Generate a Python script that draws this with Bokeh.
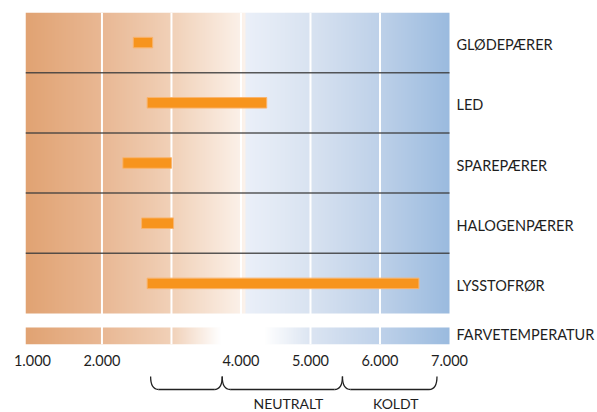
import numpy as np
from bokeh.plotting import figure
from bokeh.layouts import column
from bokeh.models import Range1d, FixedTicker
from bokeh.core.properties import value
from bokeh.embed import file_html
from bokeh.resources import INLINE

# ---------------- data ----------------
categories = ["GLØDEPÆRER", "LED", "SPAREPÆRER", "HALOGENPÆRER", "LYSSTOFRØR"]
temp_min = [2450, 2650, 2300, 2570, 2650]
temp_max = [2730, 4370, 3000, 3030, 6560]
tick_values = [1000, 2000, 4000, 5000, 6000, 7000]
tick_labels = ["1.000", "2.000", "4.000", "5.000", "6.000", "7.000"]
grid_values = [2000, 3000, 4000, 5000, 6000]
scale_label = "FARVETEMPERATUR"
zone_edges = [2700, 3730, 5460, 6820]
zone_labels = ["", "NEUTRALT", "KOLDT"]

# ---------------- layout constants ----------------
K_LO, K_HI = 900, 7000
FRAME_W = 572
PX_PER_K = 424 / (K_HI - K_LO)
X_HI = K_LO + FRAME_W / PX_PER_K
ROW_PX = 60.2
FRAME_H = 332
Y_END = FRAME_H / ROW_PX
STRIP_TOP = (327 - 12) / ROW_PX
FONT = "Lato"
TXT = "#1e1e1e"

main_stops = [(900, "#E1A373"), (2000, "#E9B894"), (3000, "#F1D1B8"),
              (4059, "#FCF3EC"), (4060, "#EBF0F9"), (5000, "#D9E3F1"),
              (6000, "#BED1E9"), (7000, "#9BBBDF")]
strip_stops = [(900, "#E1A373"), (2000, "#E9B894"), (3000, "#F1D1B8"),
               (3700, "#FFFFFF"), (4350, "#FFFFFF"), (5000, "#DCE5F2"),
               (6000, "#BFD2EA"), (7000, "#9BBBDF")]


def hex2rgb(h):
    h = h.lstrip("#")
    return [int(h[i:i + 2], 16) for i in (0, 2, 4)]


def gradient(stops, n=1220):
    ks = np.linspace(K_LO, K_HI, n)
    img = np.zeros((1, n), dtype=np.uint32)
    view = img.view(dtype=np.uint8).reshape((1, n, 4))
    pos = [s[0] for s in stops]
    cols = np.array([hex2rgb(s[1]) for s in stops], dtype=float)
    for c in range(3):
        view[0, :, c] = np.interp(ks, pos, cols[:, c]).astype(np.uint8)
    view[0, :, 3] = 255
    return img


x_range = Range1d(K_LO, X_HI)

# ---------------- main figure ----------------
p = figure(width=597, height=370, x_range=x_range,
           y_range=Range1d(Y_END, 0), output_backend="svg",
           toolbar_location=None, y_axis_location=None,
           min_border_left=25, min_border_right=0, min_border_top=12,
           min_border_bottom=26)
p.outline_line_color = None
p.grid.visible = False
p.background_fill_color = "white"

p.image_rgba(image=[gradient(main_stops)], x=K_LO, y=0, dw=K_HI - K_LO, dh=5)
p.image_rgba(image=[gradient(strip_stops)], x=K_LO, y=STRIP_TOP,
             dw=K_HI - K_LO, dh=Y_END - STRIP_TOP)

p.segment(x0=grid_values, x1=grid_values, y0=0, y1=Y_END,
          line_color="white", line_width=2)
n = len(categories)
seps = list(range(1, n))
p.segment(x0=K_LO, x1=K_HI, y0=seps, y1=seps, line_color="#3c3c3c",
          line_width=1.5, line_alpha=0.85)

centers = [i + 0.5 for i in range(n)]
p.hbar(y=centers, left=temp_min, right=temp_max, height=0.175,
       fill_color="#F7941D", line_color="#F9B46E", line_width=1)

p.text(x=K_HI, y=centers, text=categories, x_offset=7, y_offset=2,
       text_baseline="middle", text_font=value(FONT),
       text_font_size="14.5px", text_color=TXT)
p.text(x=[K_HI], y=[(STRIP_TOP + Y_END) / 2], text=[scale_label], x_offset=7,
       y_offset=-2, text_baseline="middle", text_font=value(FONT),
       text_font_size="14.5px", text_color=TXT)

ax = p.xaxis[0]
ax.ticker = FixedTicker(ticks=tick_values, minor_ticks=[])
ax.major_label_overrides = dict(zip(tick_values, tick_labels))
ax.axis_line_color = None
ax.major_tick_line_color = None
ax.minor_tick_line_color = None
ax.major_tick_out = 0
ax.major_tick_in = 0
ax.major_label_standoff = 10
ax.major_label_text_font = FONT
ax.major_label_text_font_size = "14.5px"
ax.major_label_text_color = TXT

# ---------------- zone braces ----------------
b = figure(width=597, height=42, x_range=x_range, y_range=Range1d(412, 370),
           output_backend="svg", toolbar_location=None,
           x_axis_location=None, y_axis_location=None,
           min_border_left=25, min_border_right=0, min_border_top=0,
           min_border_bottom=0)
b.outline_line_color = None
b.grid.visible = False

r = 8 / PX_PER_K
top, bot = 376, 389
a_ = np.array(zone_edges[:-1], dtype=float)
z_ = np.array(zone_edges[1:], dtype=float)
b.quadratic(x0=a_, y0=top, x1=a_ + r, y1=bot, cx=a_, cy=bot,
            line_color="#222222", line_width=1.3)
b.segment(x0=a_ + r, y0=bot, x1=z_ - r, y1=bot,
          line_color="#222222", line_width=1.3)
b.quadratic(x0=z_ - r, y0=bot, x1=z_, y1=top, cx=z_, cy=bot,
            line_color="#222222", line_width=1.3)
b.text(x=(a_ + z_) / 2, y=411.5, text=zone_labels, x_offset=6,
       text_align="center", text_baseline="bottom",
       text_font=value(FONT), text_font_size="14px", text_color=TXT)

layout = column(p, b, spacing=0)
open("out.html", "w").write(file_html(layout, INLINE))
